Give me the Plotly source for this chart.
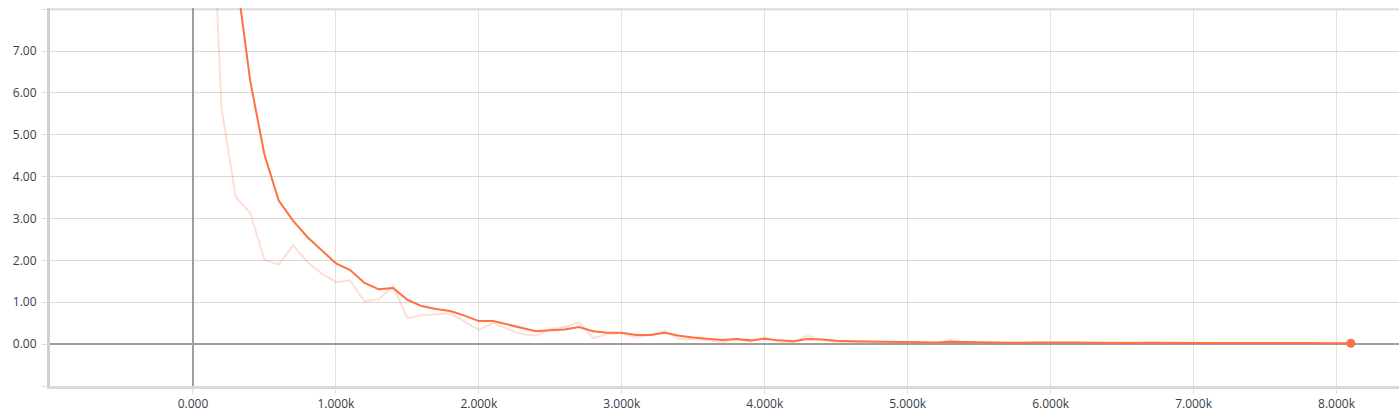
import plotly.graph_objects as go

# Training steps (every 100 steps)
steps = list(range(0, 8200, 100))

# Raw (un-smoothed) values
raw_values = [
    19.6, 13.4, 5.63, 3.51, 3.14, 2.02, 1.90, 2.36, 1.97, 1.69,
    1.48, 1.52, 1.02, 1.07, 1.39, 0.62, 0.69, 0.72, 0.74, 0.54,
    0.34, 0.51, 0.36, 0.24, 0.20, 0.36, 0.40, 0.53, 0.14, 0.24,
    0.26, 0.16, 0.22, 0.32, 0.12, 0.12, 0.10, 0.04, 0.12, 0.06,
    0.16, 0.05, 0.04, 0.20, 0.10, 0.05, 0.06, 0.06, 0.04, 0.045,
    0.05, 0.04, 0.03, 0.10, 0.04, 0.04, 0.03, 0.03, 0.035, 0.06,
    0.035, 0.04, 0.03, 0.025, 0.03, 0.03, 0.03, 0.045, 0.025, 0.025,
    0.02, 0.035, 0.025, 0.035, 0.03, 0.02, 0.02, 0.035, 0.02, 0.02,
    0.018, 0.02,
]

# Smoothed values
smoothed_values = [
    19.6, 17.1, 12.5, 8.9, 6.30, 4.53, 3.43, 2.95, 2.56, 2.24,
    1.93, 1.77, 1.46, 1.31, 1.34, 1.06, 0.91, 0.84, 0.79, 0.68,
    0.55, 0.55, 0.47, 0.39, 0.31, 0.33, 0.35, 0.41, 0.31, 0.27,
    0.27, 0.22, 0.22, 0.27, 0.20, 0.16, 0.13, 0.10, 0.12, 0.09,
    0.13, 0.09, 0.07, 0.12, 0.11, 0.08, 0.07, 0.065, 0.055, 0.05,
    0.05, 0.045, 0.04, 0.06, 0.05, 0.045, 0.04, 0.035, 0.035, 0.045,
    0.04, 0.04, 0.035, 0.03, 0.03, 0.03, 0.03, 0.035, 0.03, 0.028,
    0.025, 0.03, 0.028, 0.03, 0.03, 0.025, 0.022, 0.028, 0.025, 0.022,
    0.02, 0.02,
]

x_tickvals = [0, 1000, 2000, 3000, 4000, 5000, 6000, 7000, 8000]
x_ticktext = ["0.000", "1.000k", "2.000k", "3.000k", "4.000k", "5.000k", "6.000k", "7.000k", "8.000k"]
y_tickvals = [-1, 0, 1, 2, 3, 4, 5, 6, 7, 8]
y_ticktext = ["", "0.00", "1.00", "2.00", "3.00", "4.00", "5.00", "6.00", "7.00", ""]

ORANGE = "#ff7043"

fig = go.Figure()
fig.add_trace(go.Scatter(
    x=steps, y=raw_values, mode="lines",
    line=dict(color=ORANGE, width=2), opacity=0.22,
    hoverinfo="skip", showlegend=False,
))
fig.add_trace(go.Scatter(
    x=steps, y=smoothed_values, mode="lines",
    line=dict(color=ORANGE, width=2),
    showlegend=False,
))
fig.add_trace(go.Scatter(
    x=[steps[-1]], y=[smoothed_values[-1]], mode="markers",
    marker=dict(color=ORANGE, size=9),
    showlegend=False,
))

font = dict(family="Open Sans, Segoe UI, sans-serif", size=12, color="#36404a")

fig.update_layout(
    width=1399, height=411,
    margin=dict(l=50, r=0, t=8, b=25),
    paper_bgcolor="white", plot_bgcolor="white",
    font=font,
    xaxis=dict(
        range=[-1000, 8437],
        tickvals=x_tickvals, ticktext=x_ticktext,
        showgrid=True, gridcolor="#e2e2e2", gridwidth=1,
        zeroline=True, zerolinecolor="#9e9e9e", zerolinewidth=2,
        showline=True, linecolor="#d9d9d9", linewidth=3,
        ticks="outside", ticklen=5, tickcolor="#dddddd",
        tickfont=font,
    ),
    yaxis=dict(
        range=[-1, 8.03],
        tickvals=y_tickvals, ticktext=y_ticktext,
        showgrid=True, gridcolor="#d9d9d9", gridwidth=1,
        zeroline=True, zerolinecolor="#9e9e9e", zerolinewidth=2,
        showline=True, linecolor="#d0d0d0", linewidth=3,
        ticks="outside", ticklen=5, tickcolor="#dddddd",
        ticklabelstandoff=3,
        tickfont=font,
    ),
    shapes=[dict(
        type="line", xref="paper", yref="y", x0=0, x1=1, y0=8, y1=8,
        line=dict(color="#dcdcdc", width=2), layer="below",
    )],
)

fig.write_html(
    "out.html",
    config={"displayModeBar": False},
    post_script="document.body.style.margin='0';document.body.style.overflow='hidden';",
)
